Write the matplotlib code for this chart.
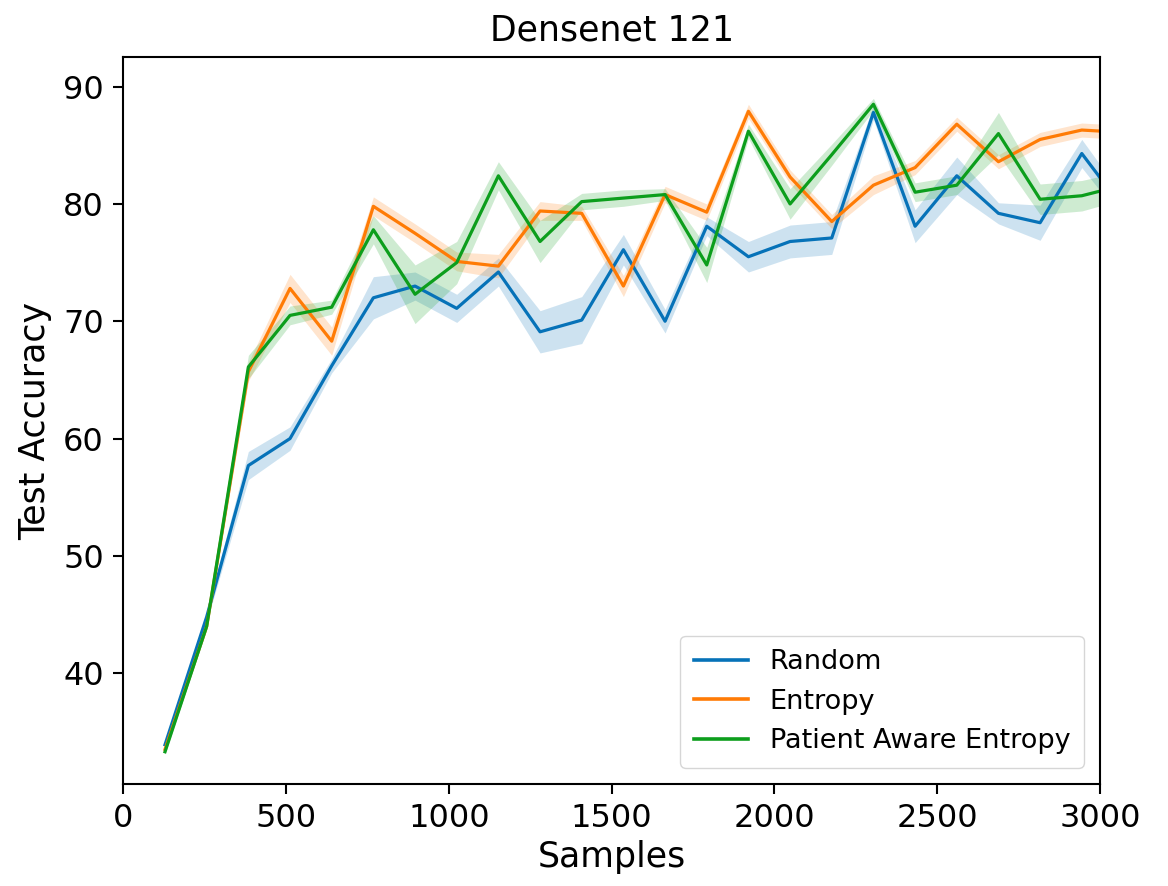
import numpy as np
import matplotlib.pyplot as plt

# samples per acquisition round (128 per step)
samples = [128, 256, 384, 512, 640, 768, 896, 1024, 1152, 1280, 1408, 1536,
           1664, 1792, 1920, 2048, 2176, 2304, 2432, 2560, 2688, 2816, 2944, 3072]

random_acc = [33.9, 44.8, 57.7, 60.0, 66.2, 72.0, 73.0, 71.1, 74.2, 69.1, 70.1, 76.1,
              70.0, 78.1, 75.5, 76.8, 77.1, 87.8, 78.1, 82.4, 79.2, 78.4, 84.3, 79.6]
random_err = [0.3, 0.4, 1.2, 1.0, 0.6, 1.8, 1.2, 1.2, 1.2, 1.8, 2.0, 1.3,
              1.0, 0.8, 1.3, 1.4, 1.4, 0.6, 1.4, 1.6, 0.9, 1.5, 1.2, 1.0]

entropy_acc = [33.5, 44.0, 65.7, 72.8, 68.3, 79.8, 77.5, 75.1, 74.7, 79.4, 79.2, 73.0,
               80.8, 79.3, 87.9, 82.3, 78.5, 81.6, 83.1, 86.8, 83.6, 85.5, 86.3, 86.1]
entropy_err = [0.2, 0.3, 0.8, 1.2, 1.2, 0.8, 0.8, 0.8, 1.0, 0.8, 0.6, 0.9,
               0.7, 0.7, 0.6, 0.6, 0.6, 0.8, 0.6, 0.6, 0.6, 0.6, 0.6, 0.6]

pae_acc = [33.3, 44.0, 66.1, 70.5, 71.2, 77.8, 72.3, 75.0, 82.4, 76.8, 80.2, 80.5,
           80.8, 74.8, 86.2, 80.0, 84.2, 88.5, 81.0, 81.6, 86.0, 80.4, 80.7, 81.6]
pae_err = [0.2, 0.3, 1.0, 0.8, 0.6, 1.2, 2.5, 1.8, 1.2, 1.8, 0.7, 0.7,
           0.5, 1.5, 0.6, 1.3, 0.9, 0.5, 0.8, 0.8, 1.8, 1.3, 1.3, 1.2]

series = [("Random", random_acc, random_err, "#0672b8"),
          ("Entropy", entropy_acc, entropy_err, "#ff7b05"),
          ("Patient Aware Entropy", pae_acc, pae_err, "#0c9e1c")]

fig = plt.figure(figsize=(11.68, 8.86), dpi=100)
ax = fig.add_axes([0.1056, 0.1151, 0.8362, 0.8202])

x = np.array(samples)
for name, acc, err, col in series:
    acc = np.array(acc)
    err = np.array(err)
    ax.fill_between(x, acc - err, acc + err, color=col, alpha=0.2, linewidth=0)
    ax.plot(x, acc, color=col, linewidth=2.3, label=name)

ax.set_xlim(0, 3000)
ax.set_ylim(30.55, 92.5)
ax.set_xticks([0, 500, 1000, 1500, 2000, 2500, 3000])
ax.set_yticks([40, 50, 60, 70, 80, 90])
ax.tick_params(labelsize=23, length=7, width=1.5, pad=7)
for sp in ax.spines.values():
    sp.set_linewidth(1.5)

ax.set_title("Densenet 121", fontsize=25, pad=12)
ax.set_xlabel("Samples", fontsize=25, labelpad=4)
ax.set_ylabel("Test Accuracy", fontsize=25, labelpad=8)

leg = ax.legend(loc="lower right", fontsize=19.5, handlelength=2.0,
                borderpad=0.5, labelspacing=0.5, borderaxespad=0.6)
for line in leg.get_lines():
    line.set_linewidth(2.6)

fig.savefig("out.png", dpi=100)
